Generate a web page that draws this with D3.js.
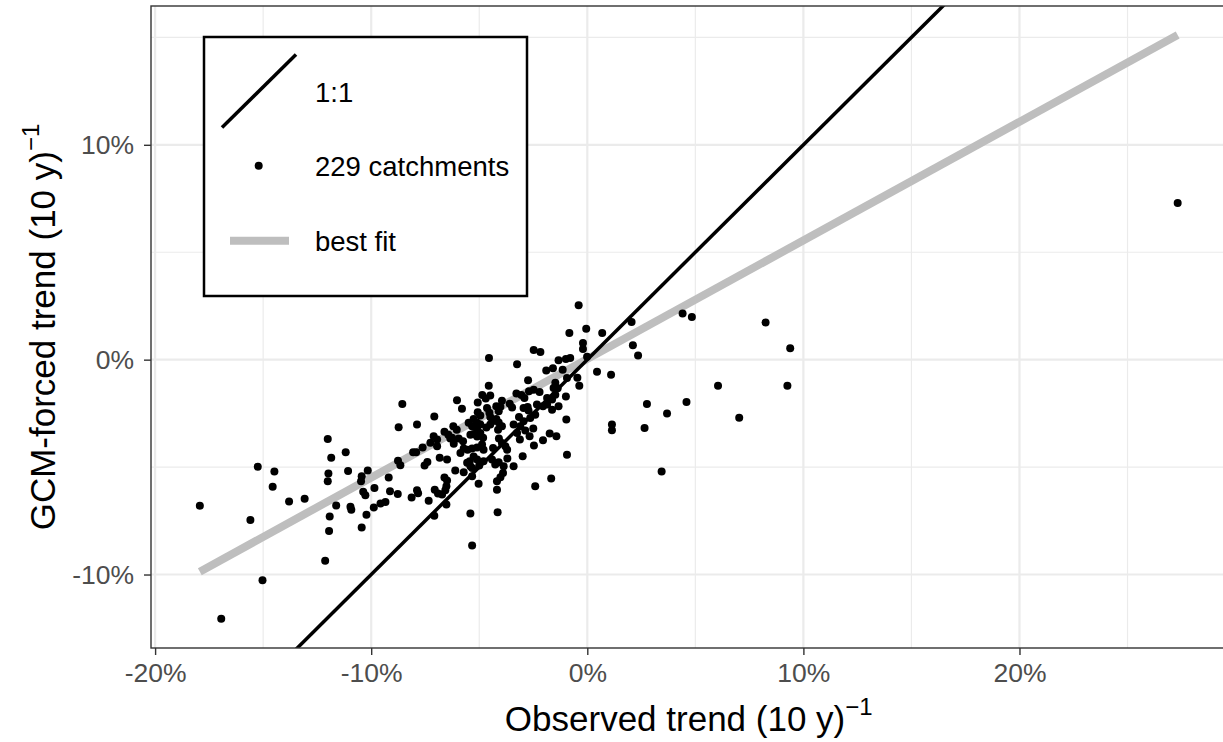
<!DOCTYPE html>
<html><head><meta charset="utf-8">
<script src="https://cdn.jsdelivr.net/npm/d3@7"></script>
<style>body{margin:0;background:#fff}</style>
</head><body><svg id="chart" width="1223" height="742"></svg>
<script>
// ---- data (percent per decade) ----
const xTicks = [-20, -10, 0, 10, 20];
const xMinor = [-15, -5, 5, 15, 25];
const yTicks = [-10, 0, 10];
const yMinor = [-5, 5, 15];

const observed = [
 -17.93,-16.94,-15.59,-15.25,-15.03,-14.48,-14.56,-13.80,-13.08,-12.13,
 -12.01,-11.85,-11.98,-12.01,-11.62,-11.92,-11.95,-11.18,-11.07,-10.96,
 -10.92,-10.22,-10.44,-10.44,-10.47,-10.16,-10.37,-10.27,-9.85,-9.88,
 -9.57,-9.34,-9.19,-9.13,-8.77,-8.76,-8.65,-8.73,-8.56,-7.88,
 -8.06,-7.92,-7.62,-8.13,-7.88,-7.83,-7.34,-7.53,-7.40,-7.26,
 -7.08,-6.61,-6.43,-6.26,-7.11,-6.95,-6.95,-6.20,-6.04,-6.03,
 -5.80,-5.49,-5.33,-5.26,-5.07,-5.07,-4.95,-6.34,-6.18,-5.95,
 -5.75,-5.41,-5.26,-5.10,-4.82,-5.72,-5.54,-5.33,-5.10,-4.87,
 -4.80,-5.87,-5.44,-5.26,-5.10,-5.56,-5.41,-6.11,-5.72,-5.33,
 -6.61,-6.49,-6.83,-6.49,-7.06,-6.91,-6.72,-6.57,-6.52,-6.52,
 -7.08,-5.41,-5.33,-5.03,-5.33,-4.80,-5.00,-5.10,-4.95,-5.10,
 -4.95,
 -4.55,-3.25,-2.74,-4.56,-4.86,-4.70,-4.49,-3.95,-3.59,-3.48,
 -3.28,-3.05,-2.91,-2.70,-2.48,-2.21,-2.95,-2.76,-2.72,-4.21,
 -4.02,-4.10,-4.64,-4.53,-4.49,-3.16,-4.39,-4.21,-4.10,-3.95,
 -4.49,-4.67,-4.13,-3.41,-3.10,-2.95,-2.87,-2.41,-2.64,-2.50,
 -3.25,-3.12,-2.67,-2.47,-4.09,-3.95,-3.79,-3.71,-4.36,-4.41,
 -4.26,-4.10,-3.70,-3.87,-3.41,-2.99,-3.90,-4.02,-4.18,-4.18,
 -4.15,-2.41,
 -2.48,-2.17,-1.33,-0.99,-0.79,-1.90,-1.59,-1.14,-1.48,-1.56,
 -1.37,-0.94,-0.46,-0.37,-2.05,-1.86,-2.33,-1.86,-1.63,-1.48,
 -0.99,-1.63,-1.33,-0.97,-1.74,-1.43,-2.05,-0.94,-1.67,-0.40,
 -0.83,-0.05,0.69,-0.20,-0.20,-0.01,0.45,1.10,1.14,1.14,
 2.05,2.11,2.35,4.41,4.84,8.25,9.39,2.76,3.69,4.59,
 6.05,7.03,9.26,2.65,3.44,27.32
];
const forced = [
 -6.80,-12.06,-7.46,-4.99,-10.27,-5.21,-5.91,-6.60,-6.47,-9.36,
 -3.69,-4.56,-5.30,-5.66,-6.79,-7.30,-7.97,-4.31,-5.18,-6.85,
 -6.98,-7.22,-7.81,-5.43,-5.66,-5.16,-6.15,-6.31,-5.97,-6.88,
 -6.70,-6.62,-5.49,-6.13,-6.25,-4.70,-4.92,-3.15,-2.06,-3.02,
 -4.31,-4.31,-4.09,-6.42,-6.08,-6.22,-6.57,-4.93,-4.76,-3.87,
 -2.65,-3.35,-3.49,-3.64,-3.57,-3.72,-4.03,-3.10,-3.26,-1.89,
 -2.28,-2.94,-3.10,-2.76,-1.99,-2.45,-2.60,-3.67,-3.91,-3.67,
 -3.80,-3.49,-3.46,-3.58,-3.64,-4.14,-4.19,-4.14,-4.09,-3.95,
 -4.19,-4.34,-4.73,-4.51,-4.65,-4.80,-4.96,-5.16,-5.24,-5.04,
 -5.49,-5.63,-4.57,-4.65,-6.05,-6.23,-6.28,-6.08,-5.89,-6.74,
 -7.26,-7.16,-8.65,-5.78,-5.43,-4.73,-4.93,-2.94,-3.02,-3.18,
 -3.41,
 0.08,-0.21,-0.96,-1.21,-1.64,-1.81,-1.67,-1.91,-2.05,-2.23,
 -1.58,-1.65,-1.78,-1.47,-1.40,-1.50,-2.25,-2.20,-2.37,-2.17,
 -2.19,-2.40,-2.25,-2.47,-2.67,-2.67,-2.87,-2.76,-2.93,-3.10,
 -3.02,-3.16,-3.26,-3.02,-3.10,-2.87,-3.30,-2.56,-2.71,-3.20,
 -3.41,-3.72,-3.57,-3.99,-3.67,-3.88,-4.03,-4.19,-4.11,-4.65,
 -4.88,-4.78,-4.60,-4.96,-4.96,-4.50,-5.27,-5.47,-5.66,-6.05,
 -7.10,-5.89,
 0.45,0.36,-0.03,0.03,0.08,-0.51,-0.40,-0.47,-1.08,-1.32,
 -1.33,-0.85,-0.84,-1.22,-2.17,-2.09,-2.09,-1.78,-1.86,-1.63,
 -1.71,-2.33,-2.17,-2.78,-3.44,-3.57,-3.75,-4.42,-5.53,2.53,
 1.24,1.44,1.24,0.78,0.50,0.14,-0.56,-0.70,-3.02,-3.29,
 1.75,0.67,0.19,2.15,1.99,1.73,0.53,-2.06,-2.51,-1.97,
 -1.22,-2.70,-1.21,-3.18,-5.20,7.29
];
const fitIntercept = 0.03;
const fitSlope = 0.552;
const legendLabels = ["1:1", "229 catchments", "best fit"];

// ---- layout ----
const svg = d3.select("#chart");
const FONT = "'Liberation Sans', Arial, sans-serif";
const xDomain = [-20.19, 29.58], yDomain = [-13.42, 16.46];
const x = d3.scaleLinear().domain(xDomain).range([151, 1226.5]);
const y = d3.scaleLinear().domain(yDomain).range([648, 6]);
const pL = x(xDomain[0]), pR = x(xDomain[1]), pT = y(yDomain[1]), pB = y(yDomain[0]);

svg.append("rect").attr("width", 1223).attr("height", 742).attr("fill", "#fff");
svg.append("defs").append("clipPath").attr("id", "clip")
  .append("rect").attr("x", pL).attr("y", pT).attr("width", pR - pL).attr("height", pB - pT);

const grid = svg.append("g");
grid.selectAll(".xmin").data(xMinor).join("line")
  .attr("x1", d => x(d)).attr("x2", d => x(d)).attr("y1", pT).attr("y2", pB)
  .attr("stroke", "#ebebeb").attr("stroke-width", 1.2);
grid.selectAll(".ymin").data(yMinor).join("line")
  .attr("y1", d => y(d)).attr("y2", d => y(d)).attr("x1", pL).attr("x2", pR)
  .attr("stroke", "#ebebeb").attr("stroke-width", 1.2);
grid.selectAll(".xmaj").data(xTicks).join("line")
  .attr("x1", d => x(d)).attr("x2", d => x(d)).attr("y1", pT).attr("y2", pB)
  .attr("stroke", "#ebebeb").attr("stroke-width", 2.2);
grid.selectAll(".ymaj").data(yTicks).join("line")
  .attr("y1", d => y(d)).attr("y2", d => y(d)).attr("x1", pL).attr("x2", pR)
  .attr("stroke", "#ebebeb").attr("stroke-width", 2.2);

const plot = svg.append("g").attr("clip-path", "url(#clip)");
const xMin = d3.min(observed), xMax = d3.max(observed);
// best fit line
plot.append("line")
  .attr("x1", x(xMin)).attr("y1", y(fitIntercept + fitSlope * xMin))
  .attr("x2", x(xMax)).attr("y2", y(fitIntercept + fitSlope * xMax))
  .attr("stroke", "#bebebe").attr("stroke-width", 8);
// 1:1 line
plot.append("line")
  .attr("x1", x(xDomain[0])).attr("y1", y(xDomain[0]))
  .attr("x2", x(xDomain[1])).attr("y2", y(xDomain[1]))
  .attr("stroke", "#000").attr("stroke-width", 3.5);
// points
plot.selectAll("circle").data(observed.map((v, i) => [v, forced[i]])).join("circle")
  .attr("cx", d => x(d[0])).attr("cy", d => y(d[1])).attr("r", 4).attr("fill", "#000");

// panel border
svg.append("rect").attr("x", pL).attr("y", pT).attr("width", pR - pL).attr("height", pB - pT)
  .attr("fill", "none").attr("stroke", "#333").attr("stroke-width", 1.4);

// axes
const fmt = d => `${d}%`;
const xAxis = svg.append("g").attr("transform", `translate(0,${pB})`)
  .call(d3.axisBottom(x).tickValues(xTicks).tickFormat(fmt).tickSize(7).tickPadding(8));
const yAxis = svg.append("g").attr("transform", `translate(${pL},0)`)
  .call(d3.axisLeft(y).tickValues(yTicks).tickFormat(fmt).tickSize(7).tickPadding(10));
[xAxis, yAxis].forEach(a => {
  a.select(".domain").remove();
  a.selectAll(".tick line").attr("stroke", "#333").attr("stroke-width", 1.4);
  a.selectAll(".tick text").attr("fill", "#4d4d4d").style("font-family", FONT).style("font-size", "26.5px");
});

// axis titles
const xt = svg.append("text").attr("x", (pL + pR) / 2).attr("y", 731)
  .attr("text-anchor", "middle").style("font-family", FONT).style("font-size", "35px").attr("fill", "#000");
xt.append("tspan").text("Observed trend (10 y)");
xt.append("tspan").attr("dy", -16).style("font-size", "24px").text("\u22121");

const yt = svg.append("text").attr("transform", `translate(55,${(pT + pB) / 2}) rotate(-90)`)
  .attr("text-anchor", "middle").style("font-family", FONT).style("font-size", "35px").attr("fill", "#000");
yt.append("tspan").text("GCM-forced trend (10 y)");
yt.append("tspan").attr("dy", -16).style("font-size", "24px").text("\u22121");

// legend
const lg = svg.append("g");
lg.append("rect").attr("x", 204).attr("y", 37).attr("width", 323).attr("height", 259)
  .attr("fill", "#fff").attr("stroke", "#000").attr("stroke-width", 2.5);
lg.append("line").attr("x1", 222).attr("y1", 127.5).attr("x2", 296).attr("y2", 54.5)
  .attr("stroke", "#000").attr("stroke-width", 3.5);
lg.append("circle").attr("cx", 258.7).attr("cy", 165.7).attr("r", 4).attr("fill", "#000");
lg.append("line").attr("x1", 230).attr("y1", 240.7).attr("x2", 289).attr("y2", 240.7)
  .attr("stroke", "#bebebe").attr("stroke-width", 8);
const ly = [92, 166.5, 241.5];
lg.selectAll("text.lab").data(legendLabels).join("text")
  .attr("x", 315).attr("y", (d, i) => ly[i]).attr("dy", "0.36em")
  .style("font-family", FONT).style("font-size", "27.5px").attr("fill", "#000")
  .text(d => d);
</script>
</body></html>
